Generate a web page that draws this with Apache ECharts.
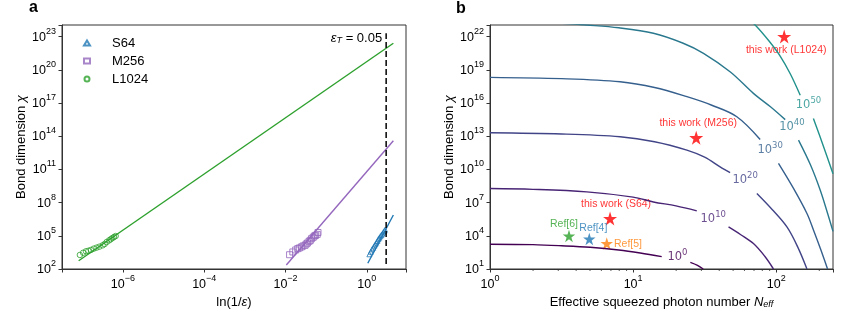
<!DOCTYPE html>
<html>
<head>
<meta charset="utf-8">
<script src="https://cdn.jsdelivr.net/npm/echarts@6/dist/echarts.min.js"></script>
<style>
  html, body { margin: 0; padding: 0; background: #fff; }
  #main { width: 847px; height: 327px; }
</style>
</head>
<body>
<div id="main"></div>
<script>
// ---------- panel a : log10 ln(1/eps)  vs  log10 chi ----------
const s64LogX = [0.064, 0.098, 0.130, 0.162, 0.187, 0.211, 0.236, 0.260, 0.285, 0.310, 0.334, 0.359, 0.383, 0.408, 0.432, 0.450]
const s64LogChi = [3.33, 3.56, 3.78, 3.93, 4.11, 4.23, 4.38, 4.53, 4.69, 4.83, 4.96, 5.07, 5.19, 5.32, 5.44, 5.55]
const m256LogX = [-1.90, -1.82, -1.75, -1.70, -1.66, -1.61, -1.57, -1.52, -1.49, -1.46, -1.42, -1.39, -1.36, -1.32, -1.29, -1.26, -1.22, -1.20]
const m256LogChi = [3.29, 3.54, 3.72, 3.84, 3.90, 3.99, 4.08, 4.14, 4.26, 4.35, 4.50, 4.59, 4.74, 4.86, 4.98, 5.04, 5.13, 5.30]
const l1024LogX = [-7.06, -6.98, -6.91, -6.85, -6.79, -6.72, -6.65, -6.58, -6.50, -6.45, -6.40, -6.34, -6.30, -6.26, -6.22, -6.18]
const l1024LogChi = [3.27, 3.47, 3.60, 3.65, 3.72, 3.84, 3.93, 4.02, 4.14, 4.26, 4.44, 4.59, 4.69, 4.80, 4.89, 4.98]
// fitted lines (end points)
const s64FitX = [0.025, 0.654]
const s64FitChi = [2.52, 6.88]
const m256FitX = [-1.98, 0.654]
const m256FitChi = [2.36, 13.6]
const l1024FitX = [-7.09, 0.654]
const l1024FitChi = [2.75, 22.41]
const epsT = 0.05

// ---------- panel b : log10 N_eff  vs  log10 chi ----------
const contourLevels = [0, 10, 20, 30, 40, 50]
// each contour is cut in two pieces around its inline label
const contourSegs = [
  [[[0, 3.24], [0.3, 3.2], [0.5, 3.1], [0.7, 2.96], [0.9, 2.72], [1.05, 2.45], [1.2, 2.12]],
   [[1.4, 1.6], [1.45, 1.33], [1.49, 1.0]]],
  [[[0, 8.27], [0.3, 8.2], [0.676, 7.97], [1.0, 7.5], [1.142, 7.06], [1.3, 6.7], [1.445, 6.25]],
   [[1.667, 4.8], [1.75, 4.12], [1.841, 3.3], [1.92, 2.15], [1.981, 1.0]]],
  [[[0, 13.31], [0.5, 13.2], [0.909, 12.95], [1.15, 12.5], [1.376, 11.74], [1.5, 11.1], [1.608, 10.23], [1.678, 9.7]],
   [[1.865, 7.82], [1.97, 6.4], [2.075, 4.8], [2.15, 3.0], [2.215, 1.0]]],
  [[[0, 18.32], [0.5, 18.2], [0.909, 17.92], [1.15, 17.4], [1.376, 16.57], [1.55, 15.8], [1.725, 14.76], [1.888, 12.7]],
   [[2.016, 10.54], [2.12, 8.3], [2.215, 6.01], [2.261, 4.5], [2.31, 2.8], [2.359, 1.0]]],
  [[[0.45, 23.25], [0.676, 23.05], [0.9, 22.8], [1.142, 22.3], [1.35, 21.4], [1.492, 20.49], [1.68, 18.8], [1.841, 16.87], [1.96, 15.66], [2.063, 14.5]],
   [[2.156, 12.65], [2.24, 10.4], [2.308, 8.12], [2.36, 6.0], [2.397, 4.4]]],
  [[[1.8, 23.6], [1.853, 23.05], [1.95, 21.6], [2.03, 20.2], [2.1, 18.6], [2.168, 16.7]],
   [[2.26, 14.6], [2.33, 12.1], [2.397, 9.6]]],
]
const contourLabelAt = [[1.31, 2.06], [1.56, 5.5], [1.783, 9.03], [1.958, 11.74], [2.11, 13.8], [2.226, 15.81]]
const starNames = ['this work (S64)', 'this work (M256)', 'this work (L1024)', 'Ref[4]', 'Ref[5]', 'Ref[6]']
const starLogN = [0.839, 1.441, 2.056, 0.694, 0.816, 0.552]
const starLogChi = [5.56, 12.86, 22.0, 3.71, 3.30, 3.99]

const FONT = 'Liberation Sans'
const BLUE = '#1f77b4', PURPLE = '#9467bd', GREEN = '#2ca02c', ORANGE = '#ff7f0e', RED = '#ff0000'
const viridis = ['#440154', '#482475', '#414487', '#355f8d', '#2a788e', '#21918c']
const STAR = 'path://M50,0 L61.23,34.55 L97.55,34.55 L68.16,55.9 L79.39,90.45 L50,69.1 L20.61,90.45 L31.84,55.9 L2.45,34.55 L38.77,34.55 Z'

const zip = (a, b) => a.map((v, i) => [v, b[i]])

function powLabel(v) {
  if (Math.abs(v - Math.round(v)) > 1e-6) return ''
  const e = Math.round(v)
  return '{b|10}{s|' + String(e).replace('-', '\u2212') + '}'
}
const tickRich = {
  b: { fontSize: 12.5, fontFamily: FONT, color: '#000', lineHeight: 14, verticalAlign: 'bottom' },
  s: { fontSize: 9, fontFamily: FONT, color: '#000', lineHeight: 9, padding: [0, 0, 8, 0], verticalAlign: 'bottom' },
}
const nameRich = {
  i: { fontStyle: 'italic', fontSize: 13, fontFamily: FONT, color: '#000' },
  sub: { fontStyle: 'italic', fontSize: 9, fontFamily: FONT, color: '#000', padding: [5, 0, 0, 0] },
}

function axis(extra) {
  return Object.assign({
    type: 'value',
    splitLine: { show: false },
    axisLine: { show: true, onZero: false, lineStyle: { color: '#333', width: 1 } },
    axisTick: { show: true, inside: false, length: 3.5, lineStyle: { color: '#333' } },
    axisLabel: { formatter: powLabel, rich: tickRich, color: '#000' },
    nameLocation: 'middle',
    nameTextStyle: { fontSize: 13, fontFamily: FONT, color: '#000', rich: nameRich },
  }, extra)
}

const series = []

// panel a
const groupsA = [
  { name: 'S64', x: s64LogX, y: s64LogChi, fx: s64FitX, fy: s64FitChi, color: BLUE, symbol: 'triangle', size: 5 },
  { name: 'M256', x: m256LogX, y: m256LogChi, fx: m256FitX, fy: m256FitChi, color: PURPLE, symbol: 'rect', size: 6 },
  { name: 'L1024', x: l1024LogX, y: l1024LogChi, fx: l1024FitX, fy: l1024FitChi, color: GREEN, symbol: 'circle', size: 5.5 },
]
groupsA.forEach(g => {
  series.push({
    name: g.name + ' fit', type: 'line', xAxisIndex: 0, yAxisIndex: 0,
    data: zip(g.fx, g.fy), showSymbol: false, silent: true,
    lineStyle: { color: g.color, width: 1.4 },
  })
  series.push({
    name: g.name, type: 'scatter', xAxisIndex: 0, yAxisIndex: 0,
    data: zip(g.x, g.y), symbol: g.symbol, symbolSize: g.size, symbolKeepAspect: true,
    itemStyle: { color: 'rgba(0,0,0,0)', borderColor: g.color, borderWidth: 1 },
  })
})
const xT = Math.log10(Math.log(1 / epsT))
series.push({
  name: 'epsT', type: 'line', xAxisIndex: 0, yAxisIndex: 0, showSymbol: true, symbolSize: 0, silent: true,
  lineStyle: { color: '#000', width: 1.5, type: [6, 3] },
  data: [
    [xT, 2.45],
    {
      value: [xT, 23.31],
      label: {
        show: true, position: 'left', distance: 4, offset: [0, 5],
        formatter: '{i|ε}{sub|T}{t| = 0.05}',
        rich: Object.assign({ t: { fontSize: 13, fontFamily: FONT, color: '#000' } }, nameRich),
      },
    },
  ],
})

// panel b: contours
contourSegs.forEach((segs, k) => {
  segs.forEach(seg => {
    series.push({
      type: 'line', xAxisIndex: 1, yAxisIndex: 1, data: seg, showSymbol: false, silent: true,
      smooth: 0.35, lineStyle: { color: viridis[k], width: 1.4 },
    })
  })
})
series.push({
  type: 'scatter', xAxisIndex: 1, yAxisIndex: 1, symbolSize: 0, silent: true,
  data: contourLabelAt.map((p, k) => ({
    value: [p[0], p[1], contourLevels[k]],
    label: {
      show: true, position: 'inside',
      formatter: '{b|10}{s|' + contourLevels[k] + '}',
      rich: {
        b: { fontSize: 11.5, fontFamily: 'DejaVu Sans', color: viridis[k], lineHeight: 12, verticalAlign: 'bottom' },
        s: { fontSize: 8.5, fontFamily: 'DejaVu Sans', color: viridis[k], lineHeight: 8, padding: [0, 0, 6, 0], verticalAlign: 'bottom' },
      },
    },
  })),
})

// panel b: stars
const starColors = [RED, RED, RED, BLUE, ORANGE, GREEN]
const starLabels = [
  { position: 'top', distance: 2, offset: [6, 0] },
  { position: 'top', distance: 2, offset: [2, 0] },
  { position: 'bottom', distance: 1, offset: [2, 0] },
  { position: 'top', distance: 1, offset: [4, 2] },
  { position: 'right', distance: 1, offset: [0, 1] },
  { position: 'top', distance: 1, offset: [-5, 1] },
]
series.push({
  type: 'scatter', xAxisIndex: 1, yAxisIndex: 1, symbol: STAR,
  data: starNames.map((n, i) => ({
    name: n,
    value: [starLogN[i], starLogChi[i]],
    symbolSize: starColors[i] === RED ? 14 : 12.5,
    itemStyle: { color: starColors[i] },
    label: Object.assign({ show: true, formatter: n, color: starColors[i], fontSize: 10.5, fontFamily: FONT }, starLabels[i]),
  })),
})

// panel b: minor ticks on the log x axis
const minorTicks = []
for (let d = 0; d < 3; d++) {
  for (let m = 2; m <= 9; m++) {
    const v = d + Math.log10(m)
    if (v < 2.397) minorTicks.push([v])
  }
}
series.push({
  type: 'custom', xAxisIndex: 1, yAxisIndex: 1, silent: true, clip: false,
  data: minorTicks,
  renderItem: (params, api) => {
    const p = api.coord([api.value(0), 1])
    return {
      type: 'line',
      shape: { x1: p[0], y1: p[1], x2: p[0], y2: p[1] + 2 },
      style: { stroke: '#333', lineWidth: 0.8 },
    }
  },
})

const chart = echarts.init(document.getElementById('main'))
chart.setOption({
  animation: false,
  backgroundColor: '#fff',
  textStyle: { fontFamily: FONT },
  title: [
    { text: 'a', left: 24, top: -5, textStyle: { fontSize: 16, fontWeight: 'bold', fontFamily: FONT, color: '#000' } },
    { text: 'b', left: 451, top: -4, textStyle: { fontSize: 16, fontWeight: 'bold', fontFamily: FONT, color: '#000' } },
  ],
  legend: {
    data: ['S64', 'M256', 'L1024'],
    orient: 'vertical', left: 83, top: 36, padding: 0,
    itemWidth: 6, itemHeight: 5, itemGap: 4,
    textStyle: { fontSize: 13, fontFamily: FONT, color: '#000', lineHeight: 14, padding: [0, 0, 0, 17] },
  },
  grid: [
    { left: 62, top: 25, width: 344, height: 244, show: true, borderColor: '#333', borderWidth: 1, backgroundColor: 'transparent' },
    { left: 490, top: 25, width: 343, height: 244, show: true, borderColor: '#333', borderWidth: 1, backgroundColor: 'transparent' },
  ],
  xAxis: [
    axis({ gridIndex: 0, min: -7.5, max: 0.965, splitNumber: 4, name: 'ln(1/{i|ε})', nameGap: 24 }),
    axis({ gridIndex: 1, min: 0, max: 2.397, interval: 1, name: 'Effective squeezed photon number {i|N}{sub|eff}', nameGap: 24 }),
  ],
  yAxis: [
    axis({ gridIndex: 0, min: 2, max: 24.06, interval: 3, name: 'Bond dimension {i|χ}', nameGap: 33, axisLabel: { formatter: powLabel, rich: tickRich, margin: 6 } }),
    axis({ gridIndex: 1, min: 1, max: 23.05, interval: 3, name: 'Bond dimension {i|χ}', nameGap: 34, axisLabel: { formatter: powLabel, rich: tickRich, margin: 6 } }),
  ],
  series: series,
})
</script>
</body>
</html>
